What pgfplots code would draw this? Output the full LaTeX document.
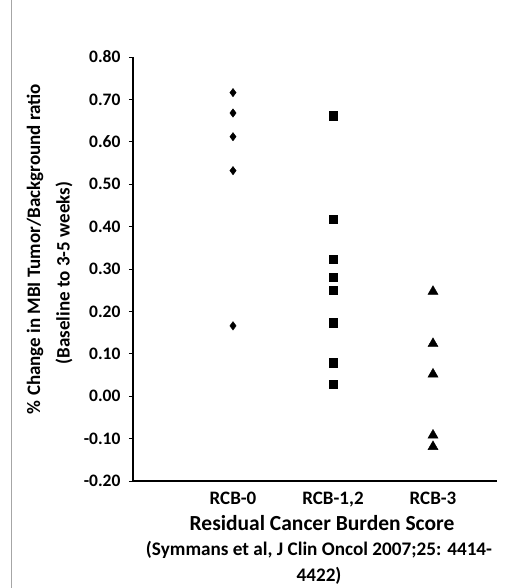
\documentclass[border=0pt]{standalone}
\usepackage{pgfplots}
\pgfplotsset{compat=1.18}
\usepackage{fontspec}
\setmainfont{Carlito}
\begin{document}
\begin{tikzpicture}
\path[use as bounding box] (-133bp,-107bp) rectangle (388bp,481bp);
\draw[gray!70, line width=1bp] (-121bp,-107bp) -- (-121bp,481bp);
\begin{axis}[
  at={(0,0)}, anchor=south west,
  scale only axis, width=364bp, height=424bp,
  xmin=-1, xmax=2.64, ymin=-0.2, ymax=0.8,
  axis x line*=bottom, axis y line*=left,
  axis line style={line width=1.3bp, black},
  xtick={0,1,2},
  xticklabels={RCB-0,{RCB-1,2},RCB-3},
  x tick style={draw=none},
  ytick={-0.2,-0.1,0,0.1,0.2,0.3,0.4,0.5,0.6,0.7,0.8},
  yticklabels={-0.20,-0.10,0.00,0.10,0.20,0.30,0.40,0.50,0.60,0.70,0.80},
  y tick style={line width=1bp, black},
  tick align=outside, major tick length=4bp,
  yticklabel style={font=\fontsize{17.5bp}{19bp}\selectfont\bfseries, xshift=-5bp},
  xticklabel style={font=\fontsize{19bp}{21bp}\selectfont\bfseries, anchor=base, yshift=-19bp},
  clip=false,
]
\addplot[only marks, mark=diamond*, mark size=4.2bp, black] coordinates {
  (0,0.716) (0,0.668) (0,0.612) (0,0.532) (0,0.166)};
\addplot[only marks, mark=square*, mark size=4.3bp, black] coordinates {
  (1,0.661) (1,0.417) (1,0.323) (1,0.281) (1,0.250) (1,0.173) (1,0.079) (1,0.028)};
\addplot[only marks, mark=triangle*, mark size=5.8bp, black] coordinates {
  (2,0.247) (2,0.124) (2,0.052) (2,-0.092) (2,-0.119)};
\end{axis}
\node[rotate=90, font=\fontsize{19bp}{22bp}\selectfont\bfseries] at (-98bp,232bp) {\% Change in MBI Tumor/Background ratio};
\node[rotate=90, font=\fontsize{19bp}{22bp}\selectfont\bfseries] at (-69bp,208bp) {(Baseline to 3-5 weeks)};
\node[anchor=base, font=\fontsize{21.5bp}{24bp}\selectfont\bfseries] at (189bp,-49bp) {Residual Cancer Burden Score};
\node[anchor=base, font=\fontsize{19.2bp}{21bp}\selectfont\bfseries] at (186bp,-74bp) {(Symmans et al, J Clin Oncol 2007;25: 4414-};
\node[anchor=base, font=\fontsize{19.2bp}{21bp}\selectfont\bfseries] at (186bp,-100bp) {4422)};
\end{tikzpicture}
\end{document}
